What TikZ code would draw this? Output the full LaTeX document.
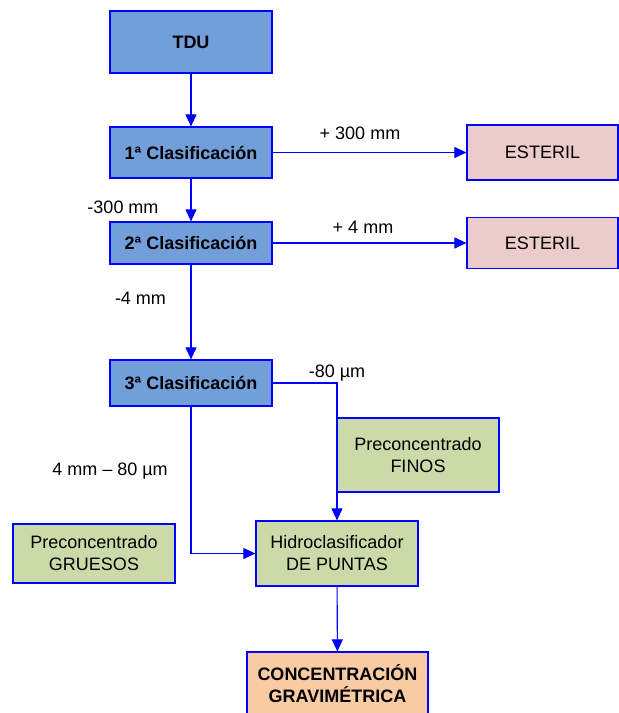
\documentclass[tikz,border=0pt]{standalone}
\usepackage{fontspec}
\setmainfont{Liberation Sans}
\usetikzlibrary{arrows.meta,positioning}

\definecolor{stageblue}{HTML}{729FDA}
\definecolor{wastepink}{HTML}{EBCCCB}
\definecolor{concgreen}{HTML}{CCDAAA}
\definecolor{finalorange}{HTML}{F9CBA5}

\begin{document}
\begin{tikzpicture}[x=1pt,y=-1pt,
    flow/.style={color=blue,line width=1.1pt,-{Triangle[length=12pt,width=11pt]}},
    main node/.style={rectangle,draw=blue,line width=1.2pt,inner sep=0pt,align=center,
                      minimum width=162pt,font=\fontsize{18}{22}\selectfont},
    stage node/.style={main node,fill=stageblue,font=\fontsize{18}{22}\selectfont\bfseries},
    waste node/.style={main node,fill=wastepink,minimum width=151pt},
    conc node/.style={main node,fill=concgreen},
    final node/.style={main node,fill=finalorange,minimum width=181pt,
                       font=\fontsize{18}{22}\selectfont\bfseries},
    size label/.style={inner sep=0pt,font=\fontsize{18}{22}\selectfont}]

  \useasboundingbox[fill=white] (0,0) rectangle (619,713);

  \node[stage node, minimum height=62pt] (1) at (191,42) {TDU};
  \node[stage node, minimum height=51pt] (2) at (191,152.5) {1ª Clasificación};
  \node[stage node, minimum height=42pt] (3) at (191,243) {2ª Clasificación};
  \node[stage node, minimum height=46pt] (4) at (191,383) {3ª Clasificación};
  \node[waste node, minimum height=55pt] (5) at (542.5,152.5) {ESTERIL};
  \node[waste node, minimum height=51pt] (6) at (542.5,243) {ESTERIL};
  \node[conc node, minimum height=74pt] (7) at (418,455) {Preconcentrado\\FINOS};
  \node[conc node, minimum height=59pt] (8) at (94,553.5) {Preconcentrado\\GRUESOS};
  \node[conc node, minimum height=65pt] (9) at (337,553.5) {Hidroclasificador\\DE PUNTAS};
  \node[final node, minimum height=64pt] (10) at (337.5,684) {CONCENTRACIÓN\\GRAVIMÉTRICA};

  % size cuts
  \node[size label] (p300) at (360,133) {+ 300 mm};
  \node[size label] (m300) at (123,207) {-300 mm};
  \node[size label] (p4) at (363,227) {+ 4 mm};
  \node[size label] (m4) at (140.5,298) {-4 mm};
  \node[size label] (m80) at (337,373) {-80 µm};
  \node[size label] (mid) at (110,471) {4 mm – 80 µm};

  \path[flow]
    (1) edge (2)
    (2) edge (3)
        edge (5)
    (3) edge (4)
        edge (6)
    (9) edge (10);
  \draw[flow] (4.east) -| (9.north);
  \draw[flow] (4.south) |- (9.west);
\end{tikzpicture}
\end{document}
